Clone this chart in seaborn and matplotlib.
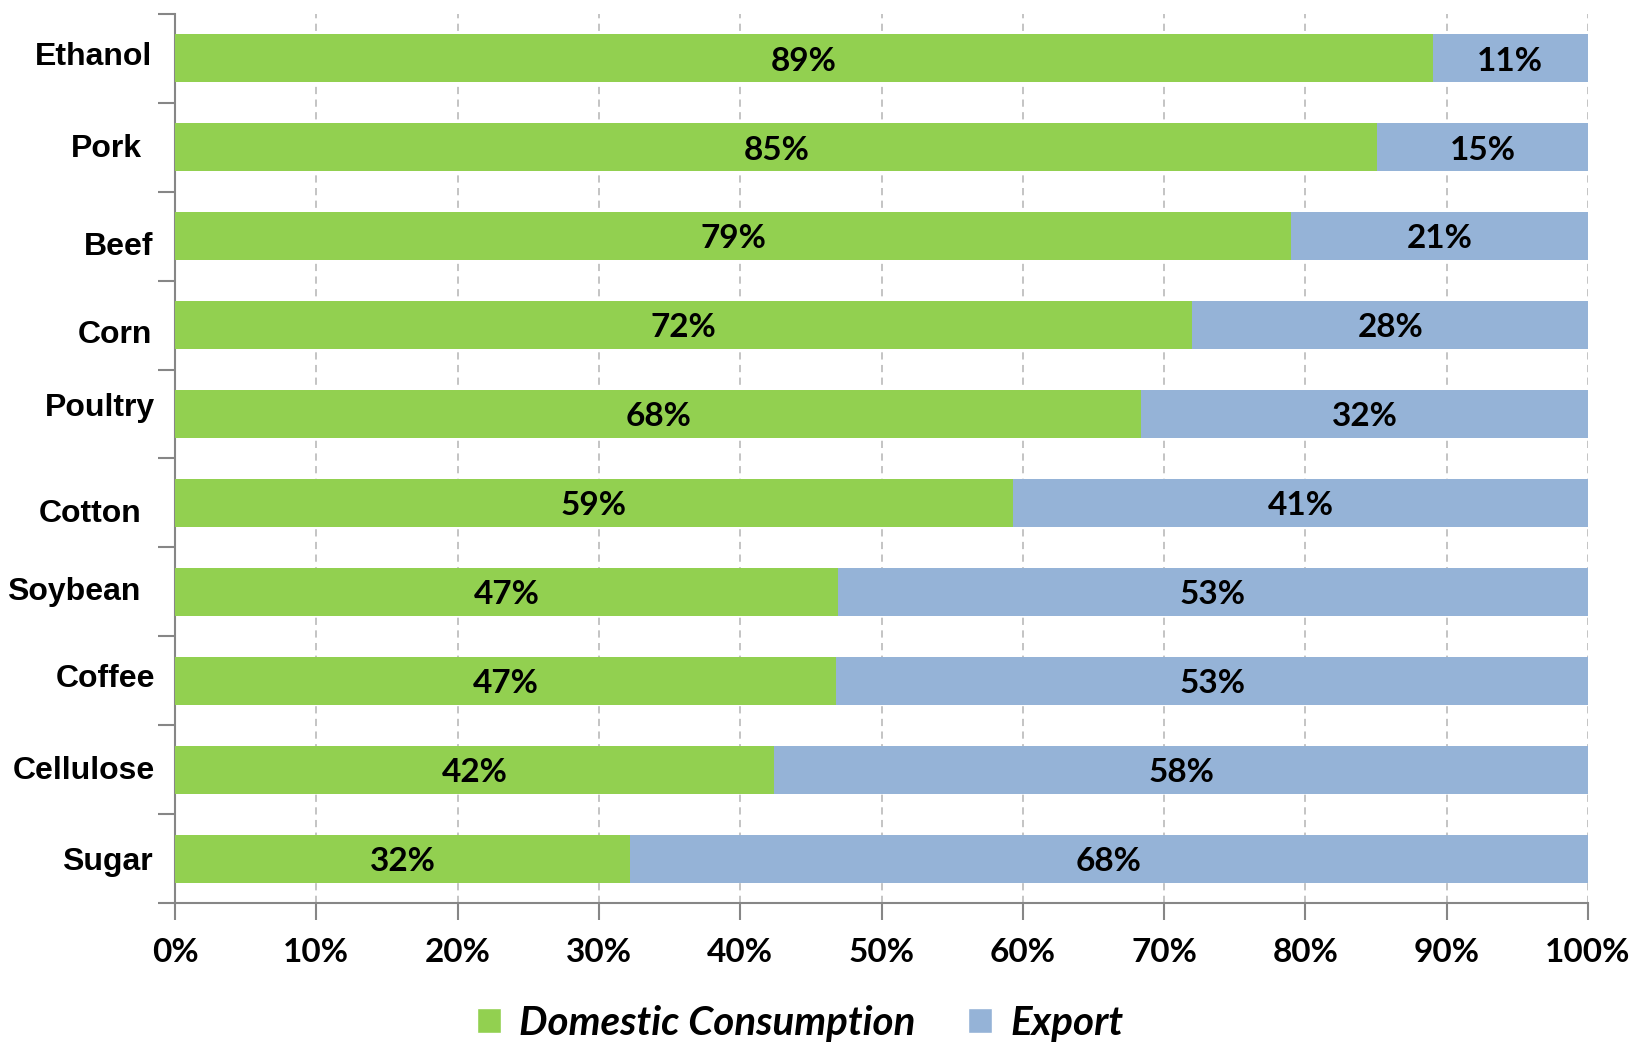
import matplotlib
matplotlib.use("Agg")
import matplotlib.pyplot as plt
import matplotlib.font_manager as fm
import matplotlib.transforms as mtransforms
from matplotlib.patches import Patch
from matplotlib.ticker import FixedLocator, FuncFormatter
import seaborn as sns
import pandas as pd

categories = ["Ethanol", "Pork", "Beef", "Corn", "Poultry", "Cotton",
              "Soybean", "Coffee", "Cellulose", "Sugar"]
domestic = [89.0, 85.1, 79.0, 72.0, 68.4, 59.3, 46.9, 46.8, 42.4, 32.2]
export = [11.0, 14.9, 21.0, 28.0, 31.6, 40.7, 53.1, 53.2, 57.6, 67.8]
domestic_labels = ["89%", "85%", "79%", "72%", "68%", "59%", "47%", "47%", "42%", "32%"]
export_labels = ["11%", "15%", "21%", "28%", "32%", "41%", "53%", "53%", "58%", "68%"]
xticks = [0, 10, 20, 30, 40, 50, 60, 70, 80, 90, 100]

# layout quirks of the original category labels (pixels: right edge, vertical shift down)
label_right_px = [152, 142, 153, 152, 155, 141, 140, 155, 155, 153]
label_shift_px = [-1, 2, 11, 10, -6, 11, 0, -2, 1, 3]

GREEN = "#92D050"
BLUE = "#95B3D7"
GRAY = "#868686"

sns.set_theme(style="white")
names = {f.name for f in fm.fontManager.ttflist}
ylab_font = "Liberation Sans Narrow" if "Liberation Sans Narrow" in names else "Liberation Sans"
num_font = "Lato" if "Lato" in names else "DejaVu Sans"
plt.rcParams["font.family"] = [num_font, "DejaVu Sans"]
plt.rcParams["text.color"] = "black"

df = pd.DataFrame({"cat": categories, "dom": domestic, "exp": export})
df["total"] = df["dom"] + df["exp"]

W, H = 1635, 1042
AX_L, AX_R, AX_T, AX_B = 175, 1588, 14, 903
fig = plt.figure(figsize=(W / 100, H / 100), dpi=100)
ax = fig.add_axes([AX_L / W, 1 - AX_B / H, (AX_R - AX_L) / W, (AX_B - AX_T) / H])

sns.barplot(data=df, y="cat", x="total", color=BLUE, width=0.54, ax=ax,
            orient="h", saturation=1, zorder=3, edgecolor="none")
sns.barplot(data=df, y="cat", x="dom", color=GREEN, width=0.54, ax=ax,
            orient="h", saturation=1, zorder=4, edgecolor="none")

ax.set_xlim(0, 100)
ax.set_ylim(9.5, -0.5)
ax.set_xlabel("")
ax.set_ylabel("")

ax.set_xticks(xticks)
ax.xaxis.set_major_formatter(FuncFormatter(lambda v, p: f"{int(v)}%"))
for lbl in ax.get_xticklabels():
    lbl.set_fontfamily(num_font)
    lbl.set_fontweight("bold")
    lbl.set_fontsize(24)
    lbl.set_color("black")

ax.set_yticks(range(len(categories)))
ax.set_yticklabels([])
ax.yaxis.set_minor_locator(FixedLocator([i - 0.5 for i in range(len(categories) + 1)]))
ax.tick_params(axis="y", which="major", length=0)
ax.tick_params(axis="y", which="minor", length=12, width=1.5, color=GRAY, left=True)
ax.tick_params(axis="x", which="major", length=12, width=1.5, color=GRAY,
               bottom=True, pad=13)

# category labels drawn as text at the category positions
base = ax.get_yaxis_transform()
for i, name in enumerate(categories):
    dx = (label_right_px[i] - AX_L) / 100.0
    dy = -label_shift_px[i] / 100.0
    tr = base + mtransforms.ScaledTranslation(dx, dy, fig.dpi_scale_trans)
    ax.text(0, i, name, transform=tr, ha="right", va="center",
            fontfamily=ylab_font, fontweight="bold", fontsize=23, color="black",
            clip_on=False)

ax.grid(axis="x", color="#BFBFBF", linestyle=(0, (4, 3)), linewidth=1.3, zorder=0)
ax.grid(axis="y", visible=False)
for s in ["top", "right"]:
    ax.spines[s].set_visible(False)
for s in ["left", "bottom"]:
    ax.spines[s].set_color(GRAY)
    ax.spines[s].set_linewidth(1.5)

for i in range(len(categories)):
    ax.text(domestic[i] / 2, i + 0.03, domestic_labels[i], ha="center", va="center",
            fontfamily=num_font, fontweight="bold", fontsize=24, color="black", zorder=6)
    ax.text(domestic[i] + export[i] / 2, i + 0.03, export_labels[i], ha="center", va="center",
            fontfamily=num_font, fontweight="bold", fontsize=24, color="black", zorder=6)

handles = [Patch(facecolor=GREEN, label="Domestic Consumption"),
           Patch(facecolor=BLUE, label="Export")]
leg = fig.legend(handles=handles, loc="center", bbox_to_anchor=(800 / W, 1 - 1023 / H),
                 ncol=2, frameon=False, handlelength=0.6, handleheight=0.6,
                 handletextpad=0.45, columnspacing=1.3,
                 prop={"family": num_font, "weight": "bold", "style": "italic", "size": 29})
for t in leg.get_texts():
    t.set_color("black")

fig.savefig("out.png", dpi=100)
